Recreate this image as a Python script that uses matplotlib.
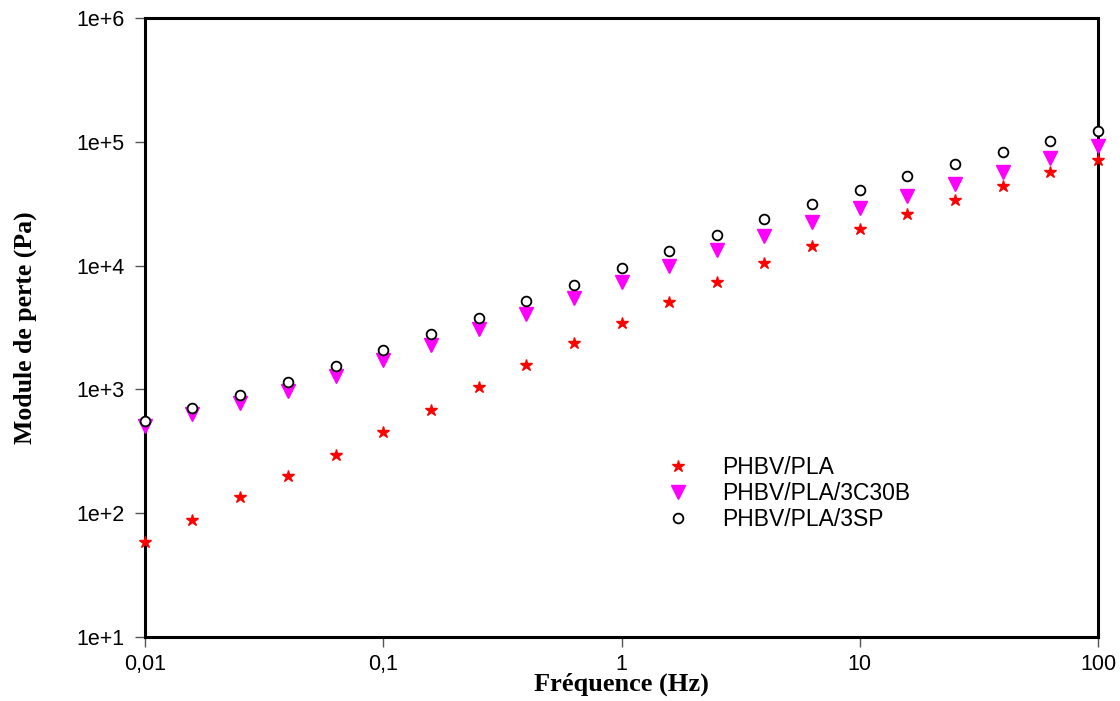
import matplotlib
matplotlib.use("Agg")
import matplotlib.pyplot as plt
from matplotlib.ticker import FixedLocator, NullLocator

# frequency sweep (Hz), 5 points per decade
freq = [0.01, 0.0158, 0.0251, 0.0398, 0.0631, 0.1, 0.158, 0.251, 0.398, 0.631,
        1, 1.58, 2.51, 3.98, 6.31, 10, 15.8, 25.1, 39.8, 63.1, 100]

# loss modulus G'' (Pa)
g_pla = [58, 88, 135, 199, 294, 450, 678, 1037, 1562, 2350,
         3470, 5125, 7430, 10570, 14500, 19880, 26250, 34040, 44160, 57300, 71600]
g_c30b = [503, 629, 771, 964, 1274, 1714, 2265, 3048, 4100, 5520,
          7430, 10000, 13460, 17460, 22650, 29370, 36700, 45840, 57300, 74300, 92900]
g_sp = [552, 703, 895, 1138, 1532, 2063, 2778, 3808, 5222, 7030,
        9630, 13200, 17780, 23930, 31600, 41000, 53200, 66500, 83000, 102000, 122700]

series_labels = ["PHBV/PLA", "PHBV/PLA/3C30B", "PHBV/PLA/3SP"]
x_ticks = [0.01, 0.1, 1, 10, 100]
x_tick_labels = ["0,01", "0,1", "1", "10", "100"]
y_ticks = [1e1, 1e2, 1e3, 1e4, 1e5, 1e6]
y_tick_labels = ["1e+1", "1e+2", "1e+3", "1e+4", "1e+5", "1e+6"]

fig = plt.figure(figsize=(11.2, 7.01), dpi=100)
ax = fig.add_axes([0.1295, 0.0913, 0.8509, 0.883])

ax.plot(freq, g_pla, linestyle="none", marker="*", markersize=9,
        color="red", markeredgecolor="red", label=series_labels[0], clip_on=False, zorder=3)
ax.plot(freq, g_c30b, linestyle="none", marker="v", markersize=10,
        color="magenta", markeredgecolor="magenta", label=series_labels[1], clip_on=False, zorder=3)
ax.plot(freq, g_sp, linestyle="none", marker="o", markersize=7, markerfacecolor="white",
        markeredgecolor="black", markeredgewidth=1.3, label=series_labels[2], clip_on=False, zorder=4)

ax.set_xscale("log")
ax.set_yscale("log")
ax.set_xlim(0.01, 100)
ax.set_ylim(10, 1e6)
ax.xaxis.set_major_locator(FixedLocator(x_ticks))
ax.yaxis.set_major_locator(FixedLocator(y_ticks))
ax.xaxis.set_minor_locator(NullLocator())
ax.yaxis.set_minor_locator(NullLocator())
ax.set_xticklabels(x_tick_labels, fontfamily="Liberation Sans", fontsize=15.5)
ax.set_yticklabels(y_tick_labels, fontfamily="Liberation Sans", fontsize=15.5)
ax.tick_params(direction="out", length=7, width=1, pad=8, color="#555555")
ax.tick_params(axis="x", pad=5)

for spine in ax.spines.values():
    spine.set_linewidth(2.2)
    spine.set_zorder(2)

ax.set_xlabel("Fréquence (Hz)", fontfamily="Liberation Serif", fontweight="bold",
              fontsize=19)
ax.xaxis.set_label_coords(0.5, -0.058)
ax.set_ylabel("Module de perte (Pa)", fontfamily="Liberation Serif", fontweight="bold",
              fontsize=18.5, labelpad=28)

ax.legend(loc="upper left", bbox_to_anchor=(0.5195, 0.325), frameon=False,
          prop={"family": "Liberation Sans", "size": 16.5}, handlelength=1.5,
          handletextpad=1.18, labelspacing=0.12)

fig.savefig("out.png", dpi=100)
